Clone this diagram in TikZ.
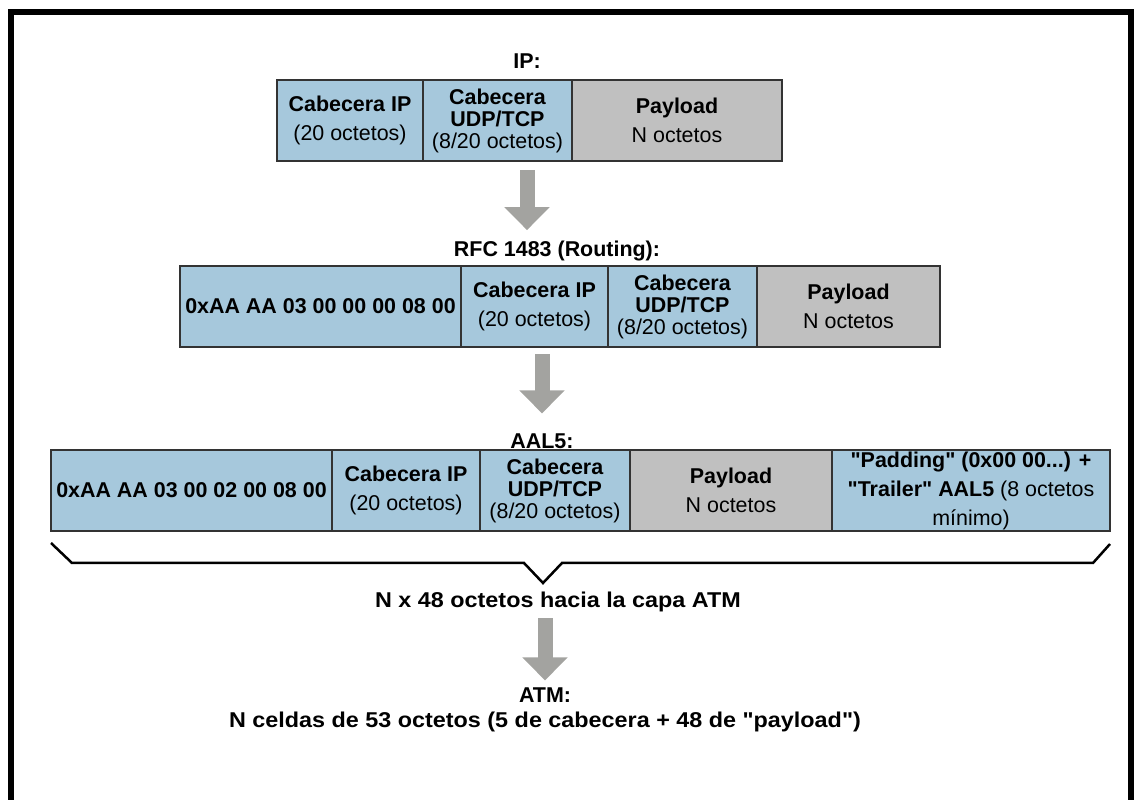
\documentclass[tikz,border=0pt]{standalone}
\usepackage{fontspec}
\setmainfont{Liberation Sans}[Ligatures=TeXOff]
\usetikzlibrary{arrows.meta}
\definecolor{cellblue}{RGB}{166,200,220}
\definecolor{cellgray}{RGB}{192,192,192}
\definecolor{arrowgray}{RGB}{163,163,160}
\tikzset{>=stealth}

\begin{document}
\begin{tikzpicture}[x=0.02cm,y=-0.02cm,
    every node/.style={font=\fontsize{12.2}{12.5}\selectfont},
    fieldbox/.style={rectangle,draw=black!80,line width=0.04cm,inner sep=0pt,minimum height=1.62cm,align=center},
    hdrbox/.style={fieldbox,fill=cellblue},
    paybox/.style={fieldbox,fill=cellgray},
    layertitle/.style={inner sep=0pt,anchor=base,font=\fontsize{12.2}{12.5}\selectfont\bfseries},
    fatarrow/.style={arrowgray,line width=0.3cm,-{Triangle[width=0.88cm,length=0.46cm]}}]
      \useasboundingbox (0,0) rectangle (1137,800);
      \draw[line width=0.12cm] (11,800) -- (11,12) -- (1131,12) -- (1131,800);
      \node (ipTitle) at (527,69)[layertitle] {IP:};
      \node (ipHdr) at (350,120.5)[hdrbox,minimum width=2.92cm] {{\bfseries Cabecera IP}\\[4pt](20 octetos)};
      \node (ipUdp) at (497.5,120.5)[hdrbox,minimum width=2.98cm] {{\bfseries Cabecera}\\{\bfseries UDP/TCP}\\(8/20 octetos)};
      \node (ipPay) at (677,120.5)[paybox,minimum width=4.2cm] {{\bfseries Payload}\\[4pt]N octetos};
      \node (rfcTitle) at (557,257)[layertitle] {RFC 1483 (Routing):};
      \node (rfcLlc) at (320.5,306.5)[hdrbox,minimum width=5.62cm] {\bfseries 0xAA AA 03 00 00 00 08 00};
      \node (rfcHdr) at (534.5,306.5)[hdrbox,minimum width=2.94cm] {{\bfseries Cabecera IP}\\[4pt](20 octetos)};
      \node (rfcUdp) at (682.5,306.5)[hdrbox,minimum width=2.98cm] {{\bfseries Cabecera}\\{\bfseries UDP/TCP}\\(8/20 octetos)};
      \node (rfcPay) at (848.5,306.5)[paybox,minimum width=3.66cm] {{\bfseries Payload}\\[4pt]N octetos};
      \node (aalTitle) at (542,449)[layertitle] {AAL5:};
      \node (aalLlc) at (191.5,490.5)[hdrbox,minimum width=5.62cm] {\bfseries 0xAA AA 03 00 02 00 08 00};
      \node (aalHdr) at (406,490.5)[hdrbox,minimum width=2.96cm] {{\bfseries Cabecera IP}\\[4pt](20 octetos)};
      \node (aalUdp) at (555,490.5)[hdrbox,minimum width=3cm] {{\bfseries Cabecera}\\{\bfseries UDP/TCP}\\(8/20 octetos)};
      \node (aalPay) at (731,490.5)[paybox,minimum width=4.04cm] {{\bfseries Payload}\\[4pt]N octetos};
      \node (aalPad) at (971,490.5)[hdrbox,minimum width=5.56cm] {{\bfseries "Padding" (0x00 00...) +}\\[4pt]{\bfseries "Trailer" AAL5} (8 octetos\\[4pt]mínimo)};
      \draw[line width=0.05cm] (51,543) -- (72,563) -- (524,563) -- (543,583) -- (562,563) -- (1093,563) -- (1110,544);
      \node (cellsTo) at (558,608)[layertitle] {\scalebox{1.09}[1]{N x 48 octetos hacia la capa ATM}};
      \node (atmTitle) at (545,703)[layertitle] {ATM:};
      \node (atmCells) at (545,727)[layertitle] {\scalebox{1.09}[1]{N celdas de 53 octetos (5 de cabecera + 48 de "payload")}};
        \draw [fatarrow,shorten <=0.16cm,shorten >=0.22cm] (ipTitle |- ipHdr.south) -- (ipTitle |- rfcTitle.north);
        \draw [fatarrow,shorten <=0.12cm,shorten >=0.41cm] (aalTitle |- rfcLlc.south) -- (aalTitle.north);
        \draw [fatarrow,shorten <=0.11cm,shorten >=0.15cm] (atmTitle |- cellsTo.south) -- (atmTitle.north);
        
        \end{tikzpicture}
\end{document}
